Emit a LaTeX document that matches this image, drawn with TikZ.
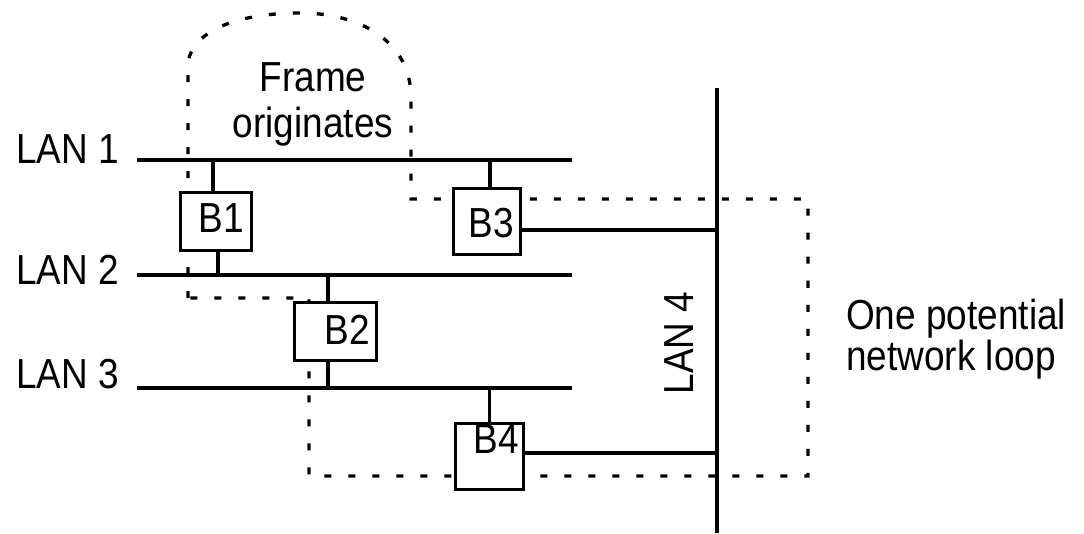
\documentclass[tikz,border=0pt]{standalone}
\usepackage{fontspec}
\setmainfont{Liberation Sans}[FakeStretch=0.88]
\begin{document}
\begin{tikzpicture}[x=1pt,y=-1pt,
  lan/.style={line width=3.2pt},
  bridge/.style={draw, line width=3.3pt, fill=white, inner sep=0pt},
  loopline/.style={line width=3.3pt, dash pattern=on 7pt off 17pt},
  lbl/.style={font=\fontsize{42}{46}\selectfont, inner sep=0pt}]
\useasboundingbox (0,0) rectangle (1084,533);

% LAN end points
\coordinate (L1a) at (137,160); \coordinate (L1b) at (572,160);
\coordinate (L2a) at (137,275); \coordinate (L2b) at (572,275);
\coordinate (L3a) at (137,388); \coordinate (L3b) at (572,388);
\coordinate (L4a) at (717,88);  \coordinate (L4b) at (717,533);

% potential network loop (dashed)
\draw[loopline] (188,298) -- (188,62)
  .. controls (195,25) and (250,13) .. (300,13)
  .. controls (365,13) and (411,45) .. (411,97)
  -- (411,199) -- (808,199) -- (808,476) -- (309,476) -- (309,298) -- cycle;

% LANs
\draw[lan] (L1a) -- (L1b);
\draw[lan] (L2a) -- (L2b);
\draw[lan] (L3a) -- (L3b);
\draw[lan] (L4a) -- (L4b);

% bridges
\node[bridge, minimum width=70.7pt, minimum height=57.7pt,
  label={[lbl, xshift=5pt, yshift=3pt]center:B1}] (B1) at (216,221.5) {};
\node[bridge, minimum width=66.7pt, minimum height=65.7pt,
  label={[lbl, xshift=4pt, yshift=-2pt]center:B3}] (B3) at (487,221.5) {};
\node[bridge, minimum width=81.7pt, minimum height=57.7pt,
  label={[lbl, xshift=11.5pt, yshift=2pt]center:B2}] (B2) at (335.5,331.5) {};
\node[bridge, minimum width=67.7pt, minimum height=65.7pt,
  label={[lbl, xshift=6.5pt, yshift=17pt]center:B4}] (B4) at (489.5,456.5) {};

% attachments
\draw[lan] ([xshift=-3pt]B1.north) -- ([xshift=-3pt]B1.north |- L1a);
\draw[lan] ([xshift=2pt]B1.south) -- ([xshift=2pt]B1.south |- L2a);
\draw[lan] ([xshift=3pt]B3.north) -- ([xshift=3pt]B3.north |- L1a);
\draw[lan] ([xshift=-7.5pt]B2.north) -- ([xshift=-7.5pt]B2.north |- L2a);
\draw[lan] ([xshift=-7.5pt]B2.south) -- ([xshift=-7.5pt]B2.south |- L3a);
\draw[lan] (B4.north) -- (B4.north |- L3a);
\draw[lan] ([yshift=-8.5pt]B3.east) -- ([yshift=-8.5pt]B3.east -| L4a);
\draw[lan] ([yshift=3.5pt]B4.east) -- ([yshift=3.5pt]B4.east -| L4a);

% texts
\node[lbl, anchor=base west] (t1) at (16,163) {LAN 1};
\node[lbl, anchor=base west] (t2) at (16,284) {LAN 2};
\node[lbl, anchor=base west] (t3) at (16,388) {LAN 3};
\node[lbl, rotate=90, anchor=base] (t4) at (693,343) {LAN 4};
\node[lbl, align=center, anchor=base] (frame) at (313,137) {Frame\\originates};
\node[lbl, align=left, anchor=base west, font=\fontsize{42}{37}\selectfont] (loopl) at (846,370) {One potential\\network loop};
\end{tikzpicture}
\end{document}
